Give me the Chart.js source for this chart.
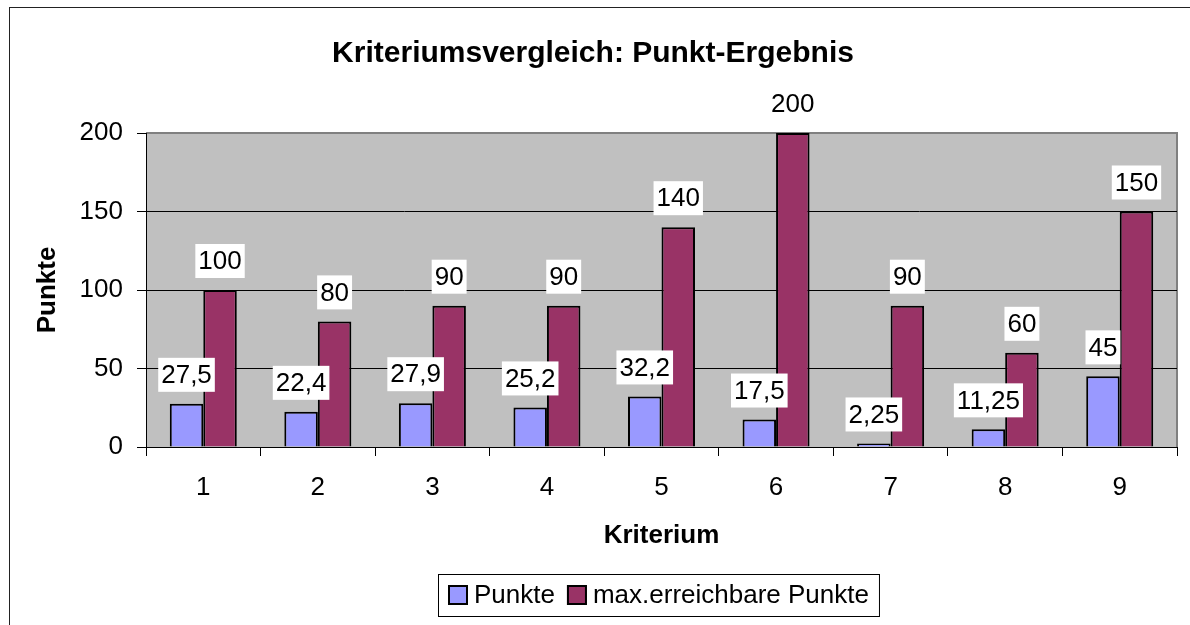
<!DOCTYPE html>
<html>
<head>
<meta charset="utf-8">
<script src="https://cdn.jsdelivr.net/npm/chart.js@4/dist/chart.umd.min.js"></script>
<style>
  html, body { margin: 0; padding: 0; background: #fff; }
  #wrap { width: 1190px; height: 625px; position: relative; }
</style>
</head>
<body>
<div id="wrap"><canvas id="chart"></canvas></div>
<script>
const categories = ["1", "2", "3", "4", "5", "6", "7", "8", "9"];
const punkte     = [27.5, 22.4, 27.9, 25.2, 32.2, 17.5, 2.25, 11.25, 45];
const maxPunkte  = [100, 80, 90, 90, 140, 200, 90, 60, 150];
const seriesNames = ["Punkte", "max.erreichbare Punkte"];

const FONT = "'Liberation Sans', Arial, sans-serif";
const FS = 26;

/* grey plot area + outer frame */
const backdrop = {
    id: "backdrop",
    beforeDraw(chart) {
        const { ctx, chartArea: a } = chart;
        ctx.save();
        ctx.fillStyle = "#fff";
        ctx.fillRect(0, 0, chart.width, chart.height);
        ctx.strokeStyle = "#222";
        ctx.lineWidth = 1;
        ctx.strokeRect(9.5, 7.5, chart.width + 10, chart.height + 10);
        ctx.fillStyle = "#C0C0C0";
        ctx.fillRect(a.left, a.top, a.right - a.left, a.bottom - a.top);
        ctx.strokeStyle = "#808080";
        ctx.lineWidth = 2;
        ctx.beginPath();
        ctx.moveTo(a.left, a.top);
        ctx.lineTo(a.right, a.top);
        ctx.lineTo(a.right, a.bottom);
        ctx.stroke();
        ctx.restore();
    }
};

/* value labels in white boxes above each bar */
const valueLabels = {
    id: "valueLabels",
    afterDatasetsDraw(chart) {
        const { ctx } = chart;
        ctx.save();
        ctx.font = `${FS}px ${FONT}`;
        ctx.textAlign = "center";
        ctx.textBaseline = "middle";
        chart.data.datasets.forEach((ds, di) => {
            chart.getDatasetMeta(di).data.forEach((bar, i) => {
                const txt = ds.data[i].toLocaleString("de-DE");
                const w = ctx.measureText(txt).width + 6;
                const h = 34;
                const bottom = bar.y - 12;
                ctx.fillStyle = "#fff";
                ctx.fillRect(bar.x - w / 2, bottom - h, w, h);
                ctx.fillStyle = "#000";
                ctx.fillText(txt, bar.x, bottom - h / 2 + 1);
            });
        });
        ctx.restore();
    }
};

/* boxed legend below the axis title */
const boxLegend = {
    id: "boxLegend",
    afterDraw(chart) {
        const { ctx, chartArea: a } = chart;
        ctx.save();
        ctx.font = `${FS}px ${FONT}`;
        ctx.textBaseline = "middle";
        const sq = 20, gap = 6, itemGap = 12, padX = 10;
        const widths = chart.data.datasets.map(ds => ctx.measureText(ds.label).width);
        let total = padX * 2;
        widths.forEach((w, i) => { total += sq + gap + w + (i ? itemGap : 0); });
        const cx = 658;
        const top = 574, h = 42;
        let x = Math.round(cx - total / 2);
        ctx.fillStyle = "#fff";
        ctx.fillRect(x, top, total, h);
        ctx.strokeStyle = "#000";
        ctx.lineWidth = 1;
        ctx.strokeRect(x + 0.5, top + 0.5, total, h);
        const cy = top + h / 2;
        x += padX;
        chart.data.datasets.forEach((ds, i) => {
            if (i) x += itemGap;
            ctx.fillStyle = ds.backgroundColor;
            ctx.fillRect(x, cy - sq / 2, sq, sq);
            ctx.strokeStyle = "#000";
            ctx.lineWidth = 2;
            ctx.strokeRect(x + 1, cy - sq / 2 + 1, sq - 2, sq - 2);
            x += sq + gap;
            ctx.fillStyle = "#000";
            ctx.fillText(ds.label, x, cy + 1);
            x += widths[i];
        });
        ctx.restore();
    }
};

new Chart(document.getElementById("chart"), {
    type: "bar",
    data: {
        labels: categories,
        datasets: [
            {
                label: seriesNames[0],
                data: punkte,
                backgroundColor: "#9999FF",
                borderColor: "#000",
                borderWidth: 2,
            },
            {
                label: seriesNames[1],
                data: maxPunkte,
                backgroundColor: "#993366",
                borderColor: "#000",
                borderWidth: 2,
            }
        ]
    },
    options: {
        responsive: true,
        maintainAspectRatio: false,
        animation: false,
        layout: { padding: { top: 0, left: 9, right: 13, bottom: 0 } },
        datasets: { bar: { categoryPercentage: 0.585, barPercentage: 1 } },
        plugins: {
            legend: { display: false },
            tooltip: { enabled: false },
            title: {
                display: true,
                text: "Kriteriumsvergleich: Punkt-Ergebnis",
                color: "#000",
                font: { family: FONT, size: 30, weight: "bold" },
                padding: { top: 36, bottom: 61 }
            }
        },
        scales: {
            x: {
                afterFit(scale) { scale.height = 178; },
                grid: {
                    display: true, offset: true, drawOnChartArea: false,
                    drawTicks: true, tickLength: 9, color: "#000"
                },
                border: { display: true, color: "#000", width: 1 },
                ticks: { color: "#000", padding: 16, font: { family: FONT, size: FS } },
                title: {
                    display: true, text: "Kriterium", color: "#000",
                    font: { family: FONT, size: FS, weight: "bold" },
                    padding: { top: 0, bottom: 74 }
                }
            },
            y: {
                min: 0, max: 200,
                afterFit(scale) { scale.width = 137; },
                grid: {
                    color: ctx => ctx.tick && ctx.tick.value === 200 ? "#808080" : "#000",
                    tickColor: "#000",
                    tickLength: 9, lineWidth: 1
                },
                border: { display: true, color: "#000", width: 1 },
                ticks: { stepSize: 50, color: "#000", padding: 14, font: { family: FONT, size: FS } },
                title: {
                    display: true, text: "Punkte", color: "#000",
                    font: { family: FONT, size: FS, weight: "bold" },
                    padding: { top: 23, bottom: 0 }
                }
            }
        }
    },
    plugins: [backdrop, valueLabels, boxLegend]
});
</script>
</body>
</html>
